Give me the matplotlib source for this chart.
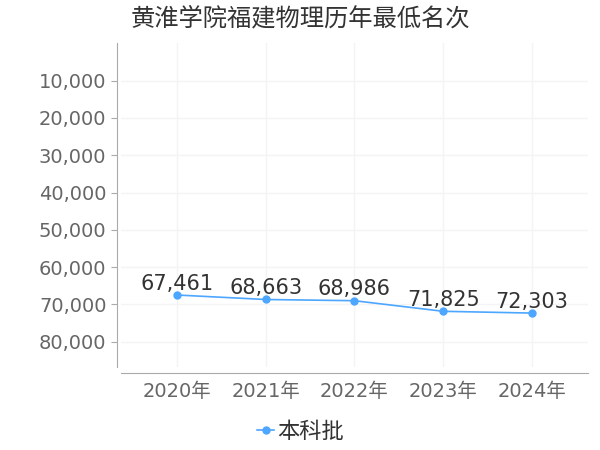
import matplotlib.pyplot as plt
from matplotlib.ticker import FuncFormatter

plt.rcParams['font.family'] = ['DejaVu Sans', 'Noto Sans CJK SC']

years = ['2020年', '2021年', '2022年', '2023年', '2024年']
ranks = [67461, 68663, 68986, 71825, 72303]
series_name = '本科批'
title = '黄淮学院福建物理历年最低名次'
yticks = [10000, 20000, 30000, 40000, 50000, 60000, 70000, 80000]

fig = plt.figure(figsize=(6, 4.5), dpi=100)
ax = fig.add_axes([0.2017, 0.184, 0.778, 0.72])

color = '#4da6ff'
x = list(range(len(years)))
ax.plot(x, ranks, color=color, marker='o', markersize=5, linewidth=1.2, label=series_name)
for xi, v in zip(x, ranks):
    ax.annotate(f'{v:,}', (xi, v), xytext=(0, 1), textcoords='offset points',
                ha='center', va='bottom', fontsize=15, color='#333333')

ax.set_xlim(-0.63, 4.63)
ax.set_ylim(86800, 0)
ax.set_yticks(yticks)
ax.yaxis.set_major_formatter(FuncFormatter(lambda v, p: f'{int(v):,}'))
ax.set_xticks(x)
ax.set_xticklabels(years)
ax.tick_params(axis='both', colors='#aaaaaa', labelcolor='#666666', labelsize=14, length=4)
ax.tick_params(axis='x', length=0, pad=7)

ax.grid(True, color='#f4f4f4', linewidth=1)
for s in ['top', 'right']:
    ax.spines[s].set_visible(False)
ax.spines['left'].set_position(('outward', 3))
ax.spines['bottom'].set_position(('outward', 4))
ax.spines['left'].set_color('#aaaaaa')
ax.spines['bottom'].set_color('#aaaaaa')

fig.text(0.217, 0.958, title, fontsize=17.5, color='#333333', va='center', ha='left',
         family=['Noto Sans CJK SC', 'DejaVu Sans'])
fig.legend(loc='center', bbox_to_anchor=(0.5, 0.04), frameon=False, fontsize=16,
           handlelength=0.8, handletextpad=0.1, labelcolor='#333333')

fig.savefig('out.png', dpi=100)
